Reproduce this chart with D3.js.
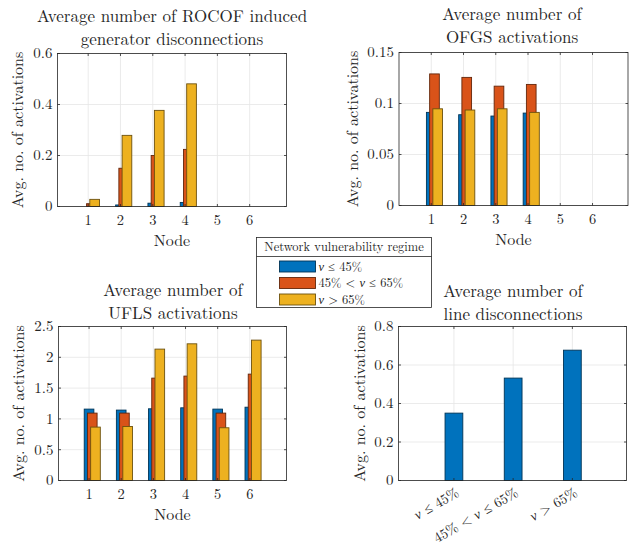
<!DOCTYPE html>
<html>
<head>
<meta charset="utf-8">
<script src="https://cdn.jsdelivr.net/npm/d3@7"></script>
<style>
  body { margin: 0; background: #fff; }
  svg text { fill: #262626; }
</style>
</head>
<body>
<svg id="chart" width="629" height="546" font-family="'Latin Modern Roman', 'CMU Serif', 'Liberation Serif', serif"></svg>
<script>
// ---- data ----
var nodes = [1, 2, 3, 4, 5, 6];
var colors = ['#0072BD', '#D95319', '#EDB120'];

var rocofLow  = [0.000, 0.006, 0.013, 0.016, 0, 0];
var rocofMid  = [0.011, 0.150, 0.200, 0.224, 0, 0];
var rocofHigh = [0.028, 0.279, 0.377, 0.481, 0, 0];

var ofgsLow  = [0.0913, 0.0890, 0.0877, 0.0906, 0, 0];
var ofgsMid  = [0.1290, 0.1256, 0.1170, 0.1187, 0, 0];
var ofgsHigh = [0.0948, 0.0936, 0.0948, 0.0913, 0, 0];

var uflsLow  = [1.159, 1.143, 1.164, 1.180, 1.159, 1.190];
var uflsMid  = [1.094, 1.094, 1.662, 1.695, 1.094, 1.727];
var uflsHigh = [0.867, 0.877, 2.133, 2.219, 0.856, 2.279];

var lineDisc = [0.350, 0.532, 0.677];

var rocofTicks = [0, 0.2, 0.4, 0.6];
var ofgsTicks  = [0, 0.05, 0.1, 0.15];
var uflsTicks  = [0, 0.5, 1, 1.5, 2, 2.5];
var lineTicks  = [0, 0.2, 0.4, 0.6, 0.8];

// regime labels, parts flagged italic for the math symbol
var regimeLabels = [
  [{t: 'ν', i: true}, {t: ' ≤ 45%'}],
  [{t: '45% < '}, {t: 'ν', i: true}, {t: ' ≤ 65%'}],
  [{t: 'ν', i: true}, {t: ' > 65%'}]
];
var legendTitle = 'Network vulnerability regime';

var svg = d3.select('#chart');

function addParts(sel, parts) {
  parts.forEach(function(p){
    sel.append('tspan').text(p.t).style('font-style', p.i ? 'italic' : 'normal');
  });
}

function drawAxes(p) {
  var g = svg.append('g');
  var x = d3.scaleLinear().domain(p.xDomain).range([p.left, p.right]);
  var y = d3.scaleLinear().domain([0, p.yMax]).range([p.bottom, p.top]);

  // grid
  g.selectAll('line.gx').data(p.xTicks).enter().append('line')
    .attr('x1', function(d){ return x(d); }).attr('x2', function(d){ return x(d); })
    .attr('y1', p.top).attr('y2', p.bottom)
    .attr('stroke', '#e6e6e6').attr('stroke-width', 0.8);
  g.selectAll('line.gy').data(p.yTicks).enter().append('line')
    .attr('x1', p.left).attr('x2', p.right)
    .attr('y1', function(d){ return y(d); }).attr('y2', function(d){ return y(d); })
    .attr('stroke', '#e6e6e6').attr('stroke-width', 0.8);

  // bars, series by series so later ones sit on top
  p.series.forEach(function(s){
    g.selectAll(null).data(s.values).enter().append('rect')
      .attr('x', function(d, i){ return x(p.xs[i] + s.offset - p.barW / 2); })
      .attr('width', x(p.barW) - x(0))
      .attr('y', function(d){ return y(d); })
      .attr('height', function(d){ return y(0) - y(d); })
      .attr('fill', s.color)
      .attr('stroke', d3.color(s.color).darker(2.2))
      .attr('stroke-width', 0.9);
  });

  // box
  g.append('rect').attr('x', p.left).attr('y', p.top)
    .attr('width', p.right - p.left).attr('height', p.bottom - p.top)
    .attr('fill', 'none').attr('stroke', '#262626').attr('stroke-width', 0.8);

  // tick marks, inside
  p.xTicks.forEach(function(d){
    g.append('line').attr('x1', x(d)).attr('x2', x(d)).attr('y1', p.bottom).attr('y2', p.bottom - 2.5)
      .attr('stroke', '#262626').attr('stroke-width', 0.8);
    g.append('line').attr('x1', x(d)).attr('x2', x(d)).attr('y1', p.top).attr('y2', p.top + 2.5)
      .attr('stroke', '#262626').attr('stroke-width', 0.8);
  });
  p.yTicks.forEach(function(d){
    g.append('line').attr('x1', p.left).attr('x2', p.left + 2.5).attr('y1', y(d)).attr('y2', y(d))
      .attr('stroke', '#262626').attr('stroke-width', 0.8);
    g.append('line').attr('x1', p.right).attr('x2', p.right - 2.5).attr('y1', y(d)).attr('y2', y(d))
      .attr('stroke', '#262626').attr('stroke-width', 0.8);
  });

  // y tick labels
  g.selectAll(null).data(p.yTicks).enter().append('text')
    .attr('x', p.left - 5).attr('y', function(d){ return y(d); })
    .attr('dy', '0.32em').attr('text-anchor', 'end')
    .style('font-size', '15px')
    .text(function(d){ return d3.format('~g')(d); });

  // x tick labels
  if (p.rotLabels) {
    p.xTicks.forEach(function(d, i){
      var t = g.append('text')
        .attr('transform', 'translate(' + (x(d) + 6) + ',' + (p.bottom + 15) + ') rotate(-30)')
        .attr('text-anchor', 'end').style('font-size', '14px');
      addParts(t, p.rotLabels[i]);
    });
  } else {
    g.selectAll(null).data(p.xTicks).enter().append('text')
      .attr('x', function(d){ return x(d); }).attr('y', p.bottom + 14)
      .attr('dy', '0.32em').attr('text-anchor', 'middle')
      .style('font-size', '14.5px')
      .text(function(d){ return d; });
    g.append('text').attr('x', (p.left + p.right) / 2).attr('y', p.bottom + 34)
      .attr('dy', '0.32em').attr('text-anchor', 'middle').style('font-size', '16px')
      .text('Node');
  }

  // y label
  g.append('text')
    .attr('transform', 'translate(' + p.ylabX + ',' + ((p.top + p.bottom) / 2) + ') rotate(-90)')
    .attr('text-anchor', 'middle').attr('dy', '0.32em').style('font-size', '16px')
    .text('Avg. no. of activations');

  // title
  p.title.forEach(function(line, i){
    g.append('text').attr('x', p.titleX).attr('y', p.titleY + i * 22.5)
      .attr('dy', '0.32em').attr('text-anchor', 'middle').style('font-size', '17px')
      .text(line);
  });
}

var barW = 0.3;
function nodeSeries(a, b, c) {
  return [
    {values: a, color: colors[0], offset: 0},
    {values: b, color: colors[1], offset: 0.1},
    {values: c, color: colors[2], offset: 0.2}
  ];
}

drawAxes({
  left: 57.5, right: 286.5, top: 53.5, bottom: 206.5,
  xDomain: [0.05, 7.14], xTicks: nodes, xs: nodes, barW: barW,
  yMax: 0.6, yTicks: rocofTicks, ylabX: 18,
  title: ['Average number of ROCOF induced', 'generator disconnections'], titleX: 172, titleY: 17,
  series: nodeSeries(rocofLow, rocofMid, rocofHigh)
});

drawAxes({
  left: 399, right: 628, top: 52.5, bottom: 205.5,
  xDomain: [0.0, 7.1], xTicks: nodes, xs: nodes, barW: barW,
  yMax: 0.15, yTicks: ofgsTicks, ylabX: 353,
  title: ['Average number of', 'OFGS activations'], titleX: 512, titleY: 15,
  series: nodeSeries(ofgsLow, ofgsMid, ofgsHigh)
});

drawAxes({
  left: 58.5, right: 286.5, top: 326.5, bottom: 480.5,
  xDomain: [0.05, 7.14], xTicks: nodes, xs: nodes, barW: barW,
  yMax: 2.5, yTicks: uflsTicks, ylabX: 19,
  title: ['Average number of', 'UFLS activations'], titleX: 173, titleY: 291,
  series: nodeSeries(uflsLow, uflsMid, uflsHigh)
});

drawAxes({
  left: 398.5, right: 626.5, top: 326.5, bottom: 480.5,
  xDomain: [0.064, 3.914], xTicks: [1, 2, 3], xs: [1, 2, 3], barW: barW,
  yMax: 0.8, yTicks: lineTicks, ylabX: 360,
  title: ['Average number of', 'line disconnections'], titleX: 513, titleY: 292,
  series: [{values: lineDisc, color: colors[0], offset: 0}],
  rotLabels: regimeLabels
});

// legend
var lg = svg.append('g');
lg.append('rect').attr('x', 256.5).attr('y', 237.5).attr('width', 175).attr('height', 70)
  .attr('fill', '#fff').attr('stroke', '#262626').attr('stroke-width', 0.8);
lg.append('line').attr('x1', 256.5).attr('x2', 431.5).attr('y1', 256.5).attr('y2', 256.5)
  .attr('stroke', '#262626').attr('stroke-width', 0.8);
lg.append('text').attr('x', 344).attr('y', 247).attr('dy', '0.32em').attr('text-anchor', 'middle')
  .style('font-size', '12.5px').text(legendTitle);
regimeLabels.forEach(function(parts, i){
  var yy = 261 + i * 16.5;
  lg.append('rect').attr('x', 279.5).attr('y', yy).attr('width', 36).attr('height', 11)
    .attr('fill', colors[i]).attr('stroke', d3.color(colors[i]).darker(2.2)).attr('stroke-width', 0.9);
  var t = lg.append('text').attr('x', 318.5).attr('y', yy + 5.5).attr('dy', '0.32em')
    .style('font-size', '12.5px');
  addParts(t, parts);
});
</script>
</body>
</html>
